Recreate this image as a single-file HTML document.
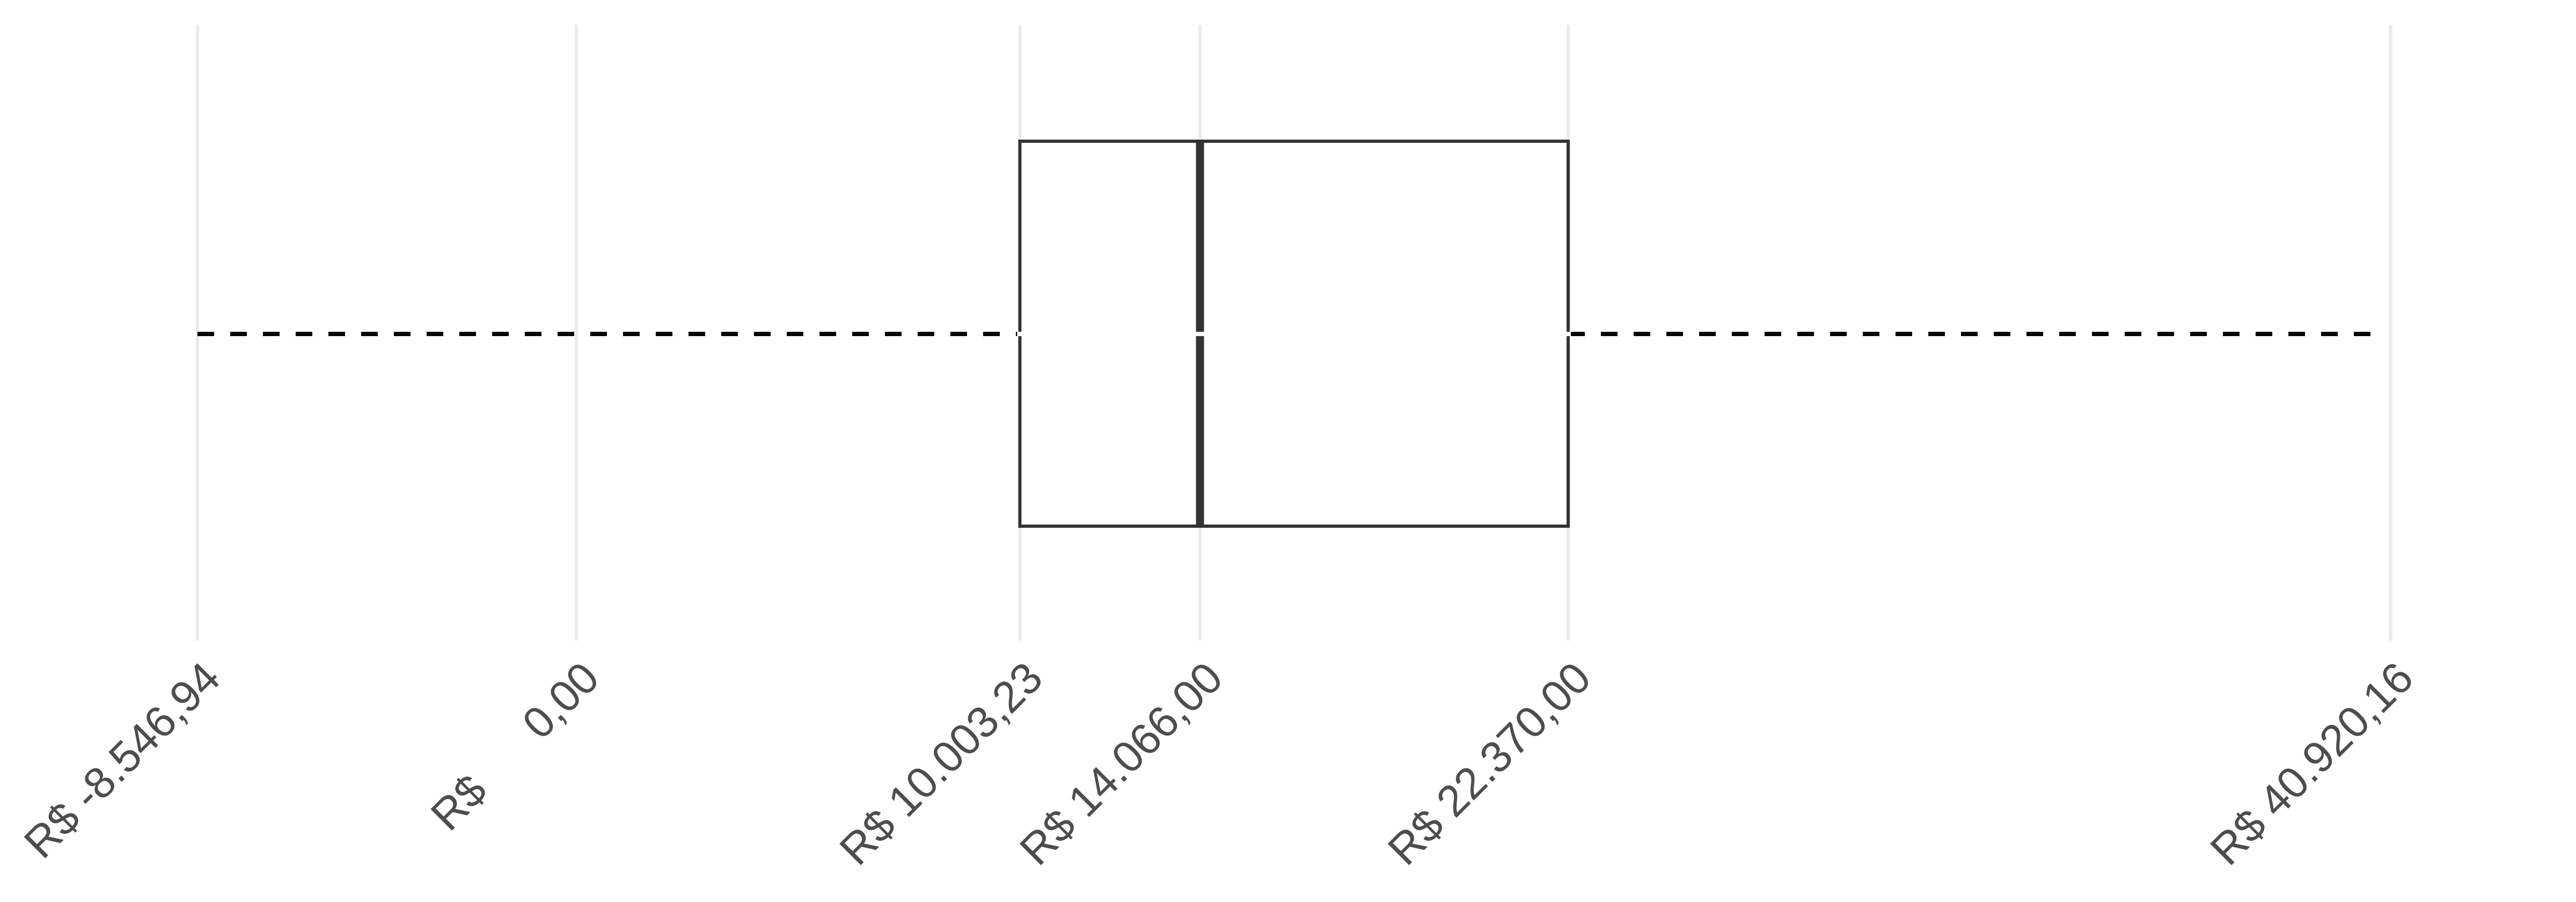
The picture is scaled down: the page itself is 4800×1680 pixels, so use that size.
<!DOCTYPE html>
<html><head><meta charset="utf-8"><style>
html,body{margin:0;padding:0;background:#fff;}
svg{display:block;}
text{font-family:"Liberation Sans",Arial,sans-serif;}
</style></head><body>
<svg id="chart" width="4800" height="1680" viewBox="0 0 4800 1680" xmlns="http://www.w3.org/2000/svg"></svg>
<script>
const tickValues = [-8546.94, 0, 10003.23, 14066.00, 22370.00, 40920.16];
const tickLabels = ["R$ -8.546,94", "R$      0,00", "R$ 10.003,23", "R$ 14.066,00", "R$ 22.370,00", "R$ 40.920,16"];
const boxStats = [-8546.94, 10003.23, 14066.00, 22370.00, 40770];
const statNames = ["whisker-min", "q1", "median", "q3", "whisker-max"];

const NS = "http://www.w3.org/2000/svg";
const svg = document.getElementById('chart');
function x(v){ return 1074 + v * 0.082613; }
function mk(tag, attrs){ const e = document.createElementNS(NS, tag); for (const k in attrs) e.setAttribute(k, attrs[k]); svg.appendChild(e); return e; }

tickValues.forEach((v, i) => {
  const g = mk('line', {x1:x(v), x2:x(v), y1:46, y2:1193, stroke:'#ebebeb', 'stroke-width':6});
  
  
  const t = mk('text', {x:0, y:0, 'font-size':82, fill:'#4d4d4d', 'text-anchor':'end',
    transform:`translate(${x(v)+47},${1268}) rotate(-45)`});
  t.setAttribute('xml:space', 'preserve');
  t.style.whiteSpace = 'pre';
  t.textContent = tickLabels[i];
  
  
});

const yTop = 263, yBot = 980, yMid = 622;
const wl = mk('line', {x1:x(boxStats[0]), x2:x(boxStats[1]), y1:yMid, y2:yMid, stroke:'#000', 'stroke-width':8, 'stroke-dasharray':'31,30'});


const wr = mk('line', {x1:x(boxStats[3]), x2:x(boxStats[4]), y1:yMid, y2:yMid, stroke:'#000', 'stroke-width':8, 'stroke-dasharray':'31,30'});



const box = mk('rect', {x:x(boxStats[1]), y:yTop, width:x(boxStats[3])-x(boxStats[1]), height:yBot-yTop, fill:'#fff', stroke:'#333', 'stroke-width':6});


const med = mk('line', {x1:x(boxStats[2]), x2:x(boxStats[2]), y1:yTop, y2:yBot, stroke:'#333', 'stroke-width':15});


const gap = mk('line', {x1:x(boxStats[1])-5, x2:x(boxStats[3])+5, y1:yMid, y2:yMid, stroke:'#fff', 'stroke-width':8});


</script>
</body></html>
